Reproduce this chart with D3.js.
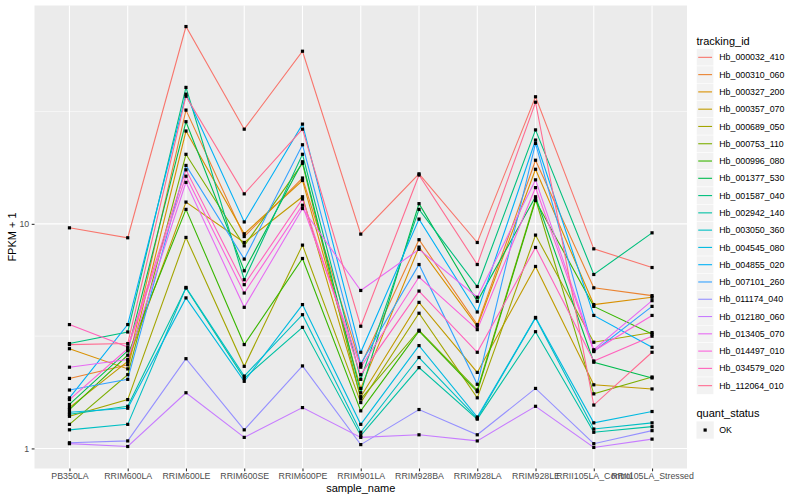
<!DOCTYPE html>
<html lang="en">
    <head>
        <meta charset="utf-8">
        <title>FPKM per sample</title>
        <script src="https://cdn.jsdelivr.net/npm/d3@7"></script>
        <style>
            body { margin: 0; background: #fff; }
            text { font-family: "Liberation Sans", Arial, sans-serif; }
        </style>
    </head>
    <body>
        <script>
            // categories on the x axis
            var samples = ["PB350LA", "RRIM600LA", "RRIM600LE", "RRIM600SE", "RRIM600PE", "RRIM901LA",
                           "RRIM928BA", "RRIM928LA", "RRIM928LE", "RRII105LA_Control", "RRII105LA_Stressed"];

            var trackingIds = ["Hb_000032_410", "Hb_000310_060", "Hb_000327_200", "Hb_000357_070", "Hb_000689_050",
                               "Hb_000753_110", "Hb_000996_080", "Hb_001377_530", "Hb_001587_040", "Hb_002942_140",
                               "Hb_003050_360", "Hb_004545_080", "Hb_004855_020", "Hb_007101_260", "Hb_011174_040",
                               "Hb_012180_060", "Hb_013405_070", "Hb_014497_010", "Hb_034579_020", "Hb_112064_010"];

            // FPKM + 1, one row per tracking id, one value per sample
            var fpkm = [
                [9.6, 8.67, 75.6, 26.4, 58.7, 9.0, 16.7, 8.26, 36.8, 7.74, 6.39],
                [2.05, 2.36, 32.1, 8.78, 16.0, 2.34, 8.5, 3.56, 19.2, 5.19, 4.79],
                [2.78, 2.26, 25.9, 9.03, 15.6, 1.85, 7.88, 3.50, 17.5, 4.37, 4.71],
                [1.52, 2.44, 12.5, 8.26, 13.2, 1.70, 4.47, 2.18, 6.46, 1.92, 1.84],
                [1.39, 1.65, 8.7, 2.32, 8.04, 1.60, 4.0, 1.68, 8.91, 2.97, 3.28],
                [1.28, 2.13, 20.4, 7.98, 18.6, 1.66, 3.36, 1.82, 12.9, 1.75, 2.08],
                [1.49, 2.6, 11.6, 2.90, 7.01, 1.47, 3.33, 1.79, 12.7, 4.29, 3.23],
                [1.57, 2.72, 28.5, 6.18, 18.9, 1.77, 12.3, 4.52, 13.2, 2.42, 2.06],
                [2.93, 3.30, 40.5, 5.64, 20.4, 2.03, 11.6, 5.26, 26.2, 5.95, 9.12],
                [1.42, 1.54, 5.18, 2.05, 3.46, 1.14, 2.29, 1.35, 3.31, 1.18, 1.25],
                [1.21, 1.28, 5.21, 2.10, 3.94, 1.18, 2.54, 1.36, 3.81, 1.22, 1.30],
                [1.45, 1.51, 4.68, 1.99, 4.37, 1.28, 2.87, 1.38, 3.83, 1.30, 1.46],
                [1.68, 3.56, 37.8, 10.2, 27.8, 2.68, 10.5, 4.05, 23.6, 3.91, 2.82],
                [1.82, 2.03, 18.2, 6.97, 22.5, 2.38, 6.59, 1.93, 22.8, 2.70, 4.29],
                [1.06, 1.08, 2.51, 1.21, 2.33, 1.04, 1.49, 1.15, 1.85, 1.05, 1.20],
                [1.05, 1.02, 1.77, 1.12, 1.52, 1.12, 1.15, 1.08, 1.54, 1.01, 1.10],
                [2.30, 2.49, 15.3, 4.25, 11.7, 5.05, 7.7, 4.71, 15.7, 2.75, 4.55],
                [1.65, 2.78, 16.3, 4.92, 12.1, 2.30, 5.8, 3.38, 14.5, 2.72, 3.91],
                [3.56, 2.83, 17.4, 5.36, 12.9, 2.13, 5.02, 2.68, 7.85, 2.45, 3.16],
                [2.90, 2.93, 37.0, 13.6, 26.4, 3.5, 16.5, 6.59, 34.8, 1.56, 2.68]
            ];

            var quantStatus = ["OK"];
            var yTicks = [1, 10];
            var yMinor = [Math.sqrt(10), Math.sqrt(1000)];

            // ggplot hue palette for 20 levels
            var palette = ["#F8766D", "#EA8331", "#D89000", "#C09B00", "#A3A500", "#7CAE00", "#39B600",
                           "#00BB4E", "#00BF7D", "#00C1A3", "#00BFC4", "#00BAE0", "#00B0F6", "#35A2FF",
                           "#9590FF", "#C77CFF", "#E76BF3", "#FA62DB", "#FF62BC", "#FF6C91"];

            var w = 800;
            var h = 500;
            var panel = {left: 34.5, right: 687, top: 5.5, bottom: 468.5};

            var svg = d3.select("body")
                        .append("svg")
                          .attr("width", w)
                          .attr("height", h);

            // scales: discrete x with ggplot's 0.6 expansion, log10 y with 5% expansion
            var xScale = d3.scalePoint()
                           .domain(samples)
                           .range([panel.left, panel.right])
                           .padding(0.6);

            var all = d3.merge(fpkm);
            var lo = Math.log10(d3.min(all));
            var hi = Math.log10(d3.max(all));
            var pad = (hi - lo) * 0.05;

            var yScale = d3.scaleLog()
                           .domain([Math.pow(10, lo - pad), Math.pow(10, hi + pad)])
                           .range([panel.bottom, panel.top]);

            // panel background and grid
            svg.append("rect")
               .attr("x", panel.left)
               .attr("y", panel.top)
               .attr("width", panel.right - panel.left)
               .attr("height", panel.bottom - panel.top)
               .attr("fill", "#EBEBEB");

            svg.selectAll(".minor")
                .data(yMinor)
              .enter()
                .append("line")
                .attr("x1", panel.left)
                .attr("x2", panel.right)
                .attr("y1", function(d) { return yScale(d); })
                .attr("y2", function(d) { return yScale(d); })
                .attr("stroke", "#fff")
                .attr("stroke-width", 0.55);

            svg.selectAll(".hgrid")
                .data(yTicks)
              .enter()
                .append("line")
                .attr("x1", panel.left)
                .attr("x2", panel.right)
                .attr("y1", function(d) { return yScale(d); })
                .attr("y2", function(d) { return yScale(d); })
                .attr("stroke", "#fff")
                .attr("stroke-width", 1.1);

            svg.selectAll(".vgrid")
                .data(samples)
              .enter()
                .append("line")
                .attr("x1", function(d) { return xScale(d); })
                .attr("x2", function(d) { return xScale(d); })
                .attr("y1", panel.top)
                .attr("y2", panel.bottom)
                .attr("stroke", "#fff")
                .attr("stroke-width", 1.1);

            // lines, one per tracking id
            var line = d3.line()
                         .x(function(d, i) { return xScale(samples[i]); })
                         .y(function(d) { return yScale(d); });

            svg.selectAll(".series")
                .data(fpkm)
              .enter()
                .append("path")
                .attr("class", "series")
                .attr("d", line)
                .attr("fill", "none")
                .attr("stroke", function(d, i) { return palette[i]; })
                .attr("stroke-width", 1.1);

            // points on top
            var pts = [];
            fpkm.forEach(function(row) {
                row.forEach(function(v, i) { pts.push({sample: samples[i], value: v}); });
            });

            svg.selectAll(".pt")
                .data(pts)
              .enter()
                .append("rect")
                .attr("x", function(d) { return xScale(d.sample) - 1.6; })
                .attr("y", function(d) { return yScale(d.value) - 1.6; })
                .attr("width", 3.2)
                .attr("height", 3.2)
                .attr("fill", "#000");

            // axes
            var xAxis = d3.axisBottom(xScale).tickSize(2.8).tickPadding(1);
            var gx = svg.append("g")
                        .attr("transform", "translate(0," + panel.bottom + ")")
                        .call(xAxis);

            var yAxis = d3.axisLeft(yScale).tickValues(yTicks).tickFormat(d3.format("d")).tickSize(2.8).tickPadding(2.5);
            var gy = svg.append("g")
                        .attr("transform", "translate(" + panel.left + ",0)")
                        .call(yAxis);

            [gx, gy].forEach(function(g) {
                g.select(".domain").remove();
                g.selectAll(".tick line").attr("stroke", "#333").attr("stroke-width", 1.1);
                g.selectAll(".tick text")
                 .attr("fill", "#4D4D4D")
                 .style("font-size", "8.8px")
                 .style("font-family", "'Liberation Sans', Arial, sans-serif");
            });

            svg.append("text")
               .attr("x", (panel.left + panel.right) / 2)
               .attr("y", 492)
               .attr("text-anchor", "middle")
               .style("font-size", "11px")
               .text("sample_name");

            svg.append("text")
               .attr("transform", "translate(16," + ((panel.top + panel.bottom) / 2) + ") rotate(-90)")
               .attr("text-anchor", "middle")
               .style("font-size", "11px")
               .text("FPKM + 1");

            // legend: tracking_id
            var keySize = 17.28;
            var legX = 696.5;
            var legTop = 48.7;

            svg.append("text")
               .attr("x", legX)
               .attr("y", 44.5)
               .style("font-size", "11px")
               .text("tracking_id");

            var items = svg.selectAll(".legend")
                .data(trackingIds)
              .enter()
                .append("g")
                .attr("transform", function(d, i) { return "translate(" + legX + "," + (legTop + i * keySize) + ")"; });

            items.append("rect")
                 .attr("width", keySize)
                 .attr("height", keySize)
                 .attr("fill", "#F2F2F2")
                 .attr("stroke", "#fff")
                 .attr("stroke-width", 0.5);

            items.append("line")
                 .attr("x1", keySize * 0.1)
                 .attr("x2", keySize * 0.9)
                 .attr("y1", keySize / 2)
                 .attr("y2", keySize / 2)
                 .attr("stroke", function(d, i) { return palette[i]; })
                 .attr("stroke-width", 1.1);

            items.append("text")
                 .attr("x", keySize + 5.5)
                 .attr("y", keySize / 2 + 3.1)
                 .style("font-size", "8.8px")
                 .text(function(d) { return d; });

            // legend: quant_status
            svg.append("text")
               .attr("x", legX)
               .attr("y", 417)
               .style("font-size", "11px")
               .text("quant_status");

            var qs = svg.selectAll(".qs")
                .data(quantStatus)
              .enter()
                .append("g")
                .attr("transform", function(d, i) { return "translate(" + legX + "," + (421.4 + i * keySize) + ")"; });

            qs.append("rect")
              .attr("width", keySize)
              .attr("height", keySize)
              .attr("fill", "#F2F2F2");

            qs.append("rect")
              .attr("x", keySize / 2 - 1.6)
              .attr("y", keySize / 2 - 1.6)
              .attr("width", 3.2)
              .attr("height", 3.2)
              .attr("fill", "#000");

            qs.append("text")
              .attr("x", keySize + 5.5)
              .attr("y", keySize / 2 + 3.1)
              .style("font-size", "8.8px")
              .text(function(d) { return d; });
        </script>
    </body>
</html>
